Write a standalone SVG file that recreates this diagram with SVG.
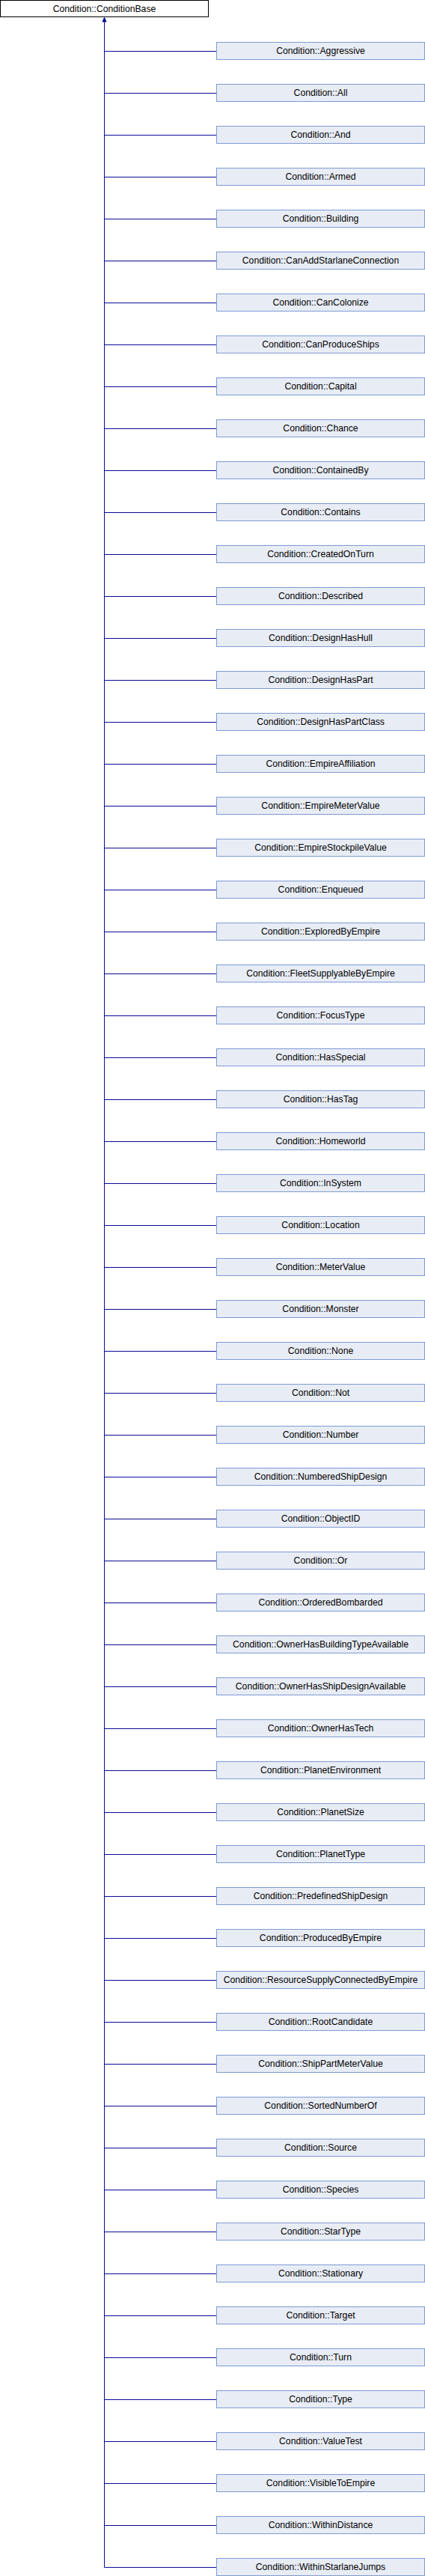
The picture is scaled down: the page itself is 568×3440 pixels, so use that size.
<svg xmlns="http://www.w3.org/2000/svg" width="568" height="3440" viewBox="0 0 568 3440">
<style>
.base{fill:#ffffff;stroke:#000000;stroke-width:1}
.node{fill:#e8ecf5;stroke:#7d9bd4;stroke-width:1}
text{font-family:"Liberation Sans",Arial,sans-serif;font-size:12.2px;fill:#000000;text-anchor:middle}
.edge{stroke:#0a0a96;stroke-width:1;fill:none}
.head{fill:#0a0a96;stroke:#0a0a96;stroke-width:1}
</style>
<g id="node-ConditionBase"><rect class="base" x="0.5" y="0.5" width="278" height="22"/><text x="139.5" y="16">Condition::ConditionBase</text></g>
<g id="connectors">
<path class="edge" d="M139.5 28V3428.5"/>
<polygon class="head" points="139.5,23.5 137,29 142,29"/>
<path class="edge" d="M139.5 68.5H289M139.5 124.5H289M139.5 180.5H289M139.5 236.5H289M139.5 292.5H289M139.5 348.5H289M139.5 404.5H289M139.5 460.5H289M139.5 516.5H289M139.5 572.5H289M139.5 628.5H289M139.5 684.5H289M139.5 740.5H289M139.5 796.5H289M139.5 852.5H289M139.5 908.5H289M139.5 964.5H289M139.5 1020.5H289M139.5 1076.5H289M139.5 1132.5H289M139.5 1188.5H289M139.5 1244.5H289M139.5 1300.5H289M139.5 1356.5H289M139.5 1412.5H289M139.5 1468.5H289M139.5 1524.5H289M139.5 1580.5H289M139.5 1636.5H289M139.5 1692.5H289M139.5 1748.5H289M139.5 1804.5H289M139.5 1860.5H289M139.5 1916.5H289M139.5 1972.5H289M139.5 2028.5H289M139.5 2084.5H289M139.5 2140.5H289M139.5 2196.5H289M139.5 2252.5H289M139.5 2308.5H289M139.5 2364.5H289M139.5 2420.5H289M139.5 2476.5H289M139.5 2532.5H289M139.5 2588.5H289M139.5 2644.5H289M139.5 2700.5H289M139.5 2756.5H289M139.5 2812.5H289M139.5 2868.5H289M139.5 2924.5H289M139.5 2980.5H289M139.5 3036.5H289M139.5 3092.5H289M139.5 3148.5H289M139.5 3204.5H289M139.5 3260.5H289M139.5 3316.5H289M139.5 3372.5H289M139.5 3428.5H289"/>
</g>
<g id="node-Aggressive"><rect class="node" x="289.5" y="56.5" width="278" height="23"/><text x="428.5" y="72">Condition::Aggressive</text></g>
<g id="node-All"><rect class="node" x="289.5" y="112.5" width="278" height="23"/><text x="428.5" y="128">Condition::All</text></g>
<g id="node-And"><rect class="node" x="289.5" y="168.5" width="278" height="23"/><text x="428.5" y="184">Condition::And</text></g>
<g id="node-Armed"><rect class="node" x="289.5" y="224.5" width="278" height="23"/><text x="428.5" y="240">Condition::Armed</text></g>
<g id="node-Building"><rect class="node" x="289.5" y="280.5" width="278" height="23"/><text x="428.5" y="296">Condition::Building</text></g>
<g id="node-CanAddStarlaneConnection"><rect class="node" x="289.5" y="336.5" width="278" height="23"/><text x="428.5" y="352">Condition::CanAddStarlaneConnection</text></g>
<g id="node-CanColonize"><rect class="node" x="289.5" y="392.5" width="278" height="23"/><text x="428.5" y="408">Condition::CanColonize</text></g>
<g id="node-CanProduceShips"><rect class="node" x="289.5" y="448.5" width="278" height="23"/><text x="428.5" y="464">Condition::CanProduceShips</text></g>
<g id="node-Capital"><rect class="node" x="289.5" y="504.5" width="278" height="23"/><text x="428.5" y="520">Condition::Capital</text></g>
<g id="node-Chance"><rect class="node" x="289.5" y="560.5" width="278" height="23"/><text x="428.5" y="576">Condition::Chance</text></g>
<g id="node-ContainedBy"><rect class="node" x="289.5" y="616.5" width="278" height="23"/><text x="428.5" y="632">Condition::ContainedBy</text></g>
<g id="node-Contains"><rect class="node" x="289.5" y="672.5" width="278" height="23"/><text x="428.5" y="688">Condition::Contains</text></g>
<g id="node-CreatedOnTurn"><rect class="node" x="289.5" y="728.5" width="278" height="23"/><text x="428.5" y="744">Condition::CreatedOnTurn</text></g>
<g id="node-Described"><rect class="node" x="289.5" y="784.5" width="278" height="23"/><text x="428.5" y="800">Condition::Described</text></g>
<g id="node-DesignHasHull"><rect class="node" x="289.5" y="840.5" width="278" height="23"/><text x="428.5" y="856">Condition::DesignHasHull</text></g>
<g id="node-DesignHasPart"><rect class="node" x="289.5" y="896.5" width="278" height="23"/><text x="428.5" y="912">Condition::DesignHasPart</text></g>
<g id="node-DesignHasPartClass"><rect class="node" x="289.5" y="952.5" width="278" height="23"/><text x="428.5" y="968">Condition::DesignHasPartClass</text></g>
<g id="node-EmpireAffiliation"><rect class="node" x="289.5" y="1008.5" width="278" height="23"/><text x="428.5" y="1024">Condition::EmpireAffiliation</text></g>
<g id="node-EmpireMeterValue"><rect class="node" x="289.5" y="1064.5" width="278" height="23"/><text x="428.5" y="1080">Condition::EmpireMeterValue</text></g>
<g id="node-EmpireStockpileValue"><rect class="node" x="289.5" y="1120.5" width="278" height="23"/><text x="428.5" y="1136">Condition::EmpireStockpileValue</text></g>
<g id="node-Enqueued"><rect class="node" x="289.5" y="1176.5" width="278" height="23"/><text x="428.5" y="1192">Condition::Enqueued</text></g>
<g id="node-ExploredByEmpire"><rect class="node" x="289.5" y="1232.5" width="278" height="23"/><text x="428.5" y="1248">Condition::ExploredByEmpire</text></g>
<g id="node-FleetSupplyableByEmpire"><rect class="node" x="289.5" y="1288.5" width="278" height="23"/><text x="428.5" y="1304">Condition::FleetSupplyableByEmpire</text></g>
<g id="node-FocusType"><rect class="node" x="289.5" y="1344.5" width="278" height="23"/><text x="428.5" y="1360">Condition::FocusType</text></g>
<g id="node-HasSpecial"><rect class="node" x="289.5" y="1400.5" width="278" height="23"/><text x="428.5" y="1416">Condition::HasSpecial</text></g>
<g id="node-HasTag"><rect class="node" x="289.5" y="1456.5" width="278" height="23"/><text x="428.5" y="1472">Condition::HasTag</text></g>
<g id="node-Homeworld"><rect class="node" x="289.5" y="1512.5" width="278" height="23"/><text x="428.5" y="1528">Condition::Homeworld</text></g>
<g id="node-InSystem"><rect class="node" x="289.5" y="1568.5" width="278" height="23"/><text x="428.5" y="1584">Condition::InSystem</text></g>
<g id="node-Location"><rect class="node" x="289.5" y="1624.5" width="278" height="23"/><text x="428.5" y="1640">Condition::Location</text></g>
<g id="node-MeterValue"><rect class="node" x="289.5" y="1680.5" width="278" height="23"/><text x="428.5" y="1696">Condition::MeterValue</text></g>
<g id="node-Monster"><rect class="node" x="289.5" y="1736.5" width="278" height="23"/><text x="428.5" y="1752">Condition::Monster</text></g>
<g id="node-None"><rect class="node" x="289.5" y="1792.5" width="278" height="23"/><text x="428.5" y="1808">Condition::None</text></g>
<g id="node-Not"><rect class="node" x="289.5" y="1848.5" width="278" height="23"/><text x="428.5" y="1864">Condition::Not</text></g>
<g id="node-Number"><rect class="node" x="289.5" y="1904.5" width="278" height="23"/><text x="428.5" y="1920">Condition::Number</text></g>
<g id="node-NumberedShipDesign"><rect class="node" x="289.5" y="1960.5" width="278" height="23"/><text x="428.5" y="1976">Condition::NumberedShipDesign</text></g>
<g id="node-ObjectID"><rect class="node" x="289.5" y="2016.5" width="278" height="23"/><text x="428.5" y="2032">Condition::ObjectID</text></g>
<g id="node-Or"><rect class="node" x="289.5" y="2072.5" width="278" height="23"/><text x="428.5" y="2088">Condition::Or</text></g>
<g id="node-OrderedBombarded"><rect class="node" x="289.5" y="2128.5" width="278" height="23"/><text x="428.5" y="2144">Condition::OrderedBombarded</text></g>
<g id="node-OwnerHasBuildingTypeAvailable"><rect class="node" x="289.5" y="2184.5" width="278" height="23"/><text x="428.5" y="2200">Condition::OwnerHasBuildingTypeAvailable</text></g>
<g id="node-OwnerHasShipDesignAvailable"><rect class="node" x="289.5" y="2240.5" width="278" height="23"/><text x="428.5" y="2256">Condition::OwnerHasShipDesignAvailable</text></g>
<g id="node-OwnerHasTech"><rect class="node" x="289.5" y="2296.5" width="278" height="23"/><text x="428.5" y="2312">Condition::OwnerHasTech</text></g>
<g id="node-PlanetEnvironment"><rect class="node" x="289.5" y="2352.5" width="278" height="23"/><text x="428.5" y="2368">Condition::PlanetEnvironment</text></g>
<g id="node-PlanetSize"><rect class="node" x="289.5" y="2408.5" width="278" height="23"/><text x="428.5" y="2424">Condition::PlanetSize</text></g>
<g id="node-PlanetType"><rect class="node" x="289.5" y="2464.5" width="278" height="23"/><text x="428.5" y="2480">Condition::PlanetType</text></g>
<g id="node-PredefinedShipDesign"><rect class="node" x="289.5" y="2520.5" width="278" height="23"/><text x="428.5" y="2536">Condition::PredefinedShipDesign</text></g>
<g id="node-ProducedByEmpire"><rect class="node" x="289.5" y="2576.5" width="278" height="23"/><text x="428.5" y="2592">Condition::ProducedByEmpire</text></g>
<g id="node-ResourceSupplyConnectedByEmpire"><rect class="node" x="289.5" y="2632.5" width="278" height="23"/><text x="428.5" y="2648">Condition::ResourceSupplyConnectedByEmpire</text></g>
<g id="node-RootCandidate"><rect class="node" x="289.5" y="2688.5" width="278" height="23"/><text x="428.5" y="2704">Condition::RootCandidate</text></g>
<g id="node-ShipPartMeterValue"><rect class="node" x="289.5" y="2744.5" width="278" height="23"/><text x="428.5" y="2760">Condition::ShipPartMeterValue</text></g>
<g id="node-SortedNumberOf"><rect class="node" x="289.5" y="2800.5" width="278" height="23"/><text x="428.5" y="2816">Condition::SortedNumberOf</text></g>
<g id="node-Source"><rect class="node" x="289.5" y="2856.5" width="278" height="23"/><text x="428.5" y="2872">Condition::Source</text></g>
<g id="node-Species"><rect class="node" x="289.5" y="2912.5" width="278" height="23"/><text x="428.5" y="2928">Condition::Species</text></g>
<g id="node-StarType"><rect class="node" x="289.5" y="2968.5" width="278" height="23"/><text x="428.5" y="2984">Condition::StarType</text></g>
<g id="node-Stationary"><rect class="node" x="289.5" y="3024.5" width="278" height="23"/><text x="428.5" y="3040">Condition::Stationary</text></g>
<g id="node-Target"><rect class="node" x="289.5" y="3080.5" width="278" height="23"/><text x="428.5" y="3096">Condition::Target</text></g>
<g id="node-Turn"><rect class="node" x="289.5" y="3136.5" width="278" height="23"/><text x="428.5" y="3152">Condition::Turn</text></g>
<g id="node-Type"><rect class="node" x="289.5" y="3192.5" width="278" height="23"/><text x="428.5" y="3208">Condition::Type</text></g>
<g id="node-ValueTest"><rect class="node" x="289.5" y="3248.5" width="278" height="23"/><text x="428.5" y="3264">Condition::ValueTest</text></g>
<g id="node-VisibleToEmpire"><rect class="node" x="289.5" y="3304.5" width="278" height="23"/><text x="428.5" y="3320">Condition::VisibleToEmpire</text></g>
<g id="node-WithinDistance"><rect class="node" x="289.5" y="3360.5" width="278" height="23"/><text x="428.5" y="3376">Condition::WithinDistance</text></g>
<g id="node-WithinStarlaneJumps"><rect class="node" x="289.5" y="3416.5" width="278" height="23"/><text x="428.5" y="3432">Condition::WithinStarlaneJumps</text></g>
</svg>
